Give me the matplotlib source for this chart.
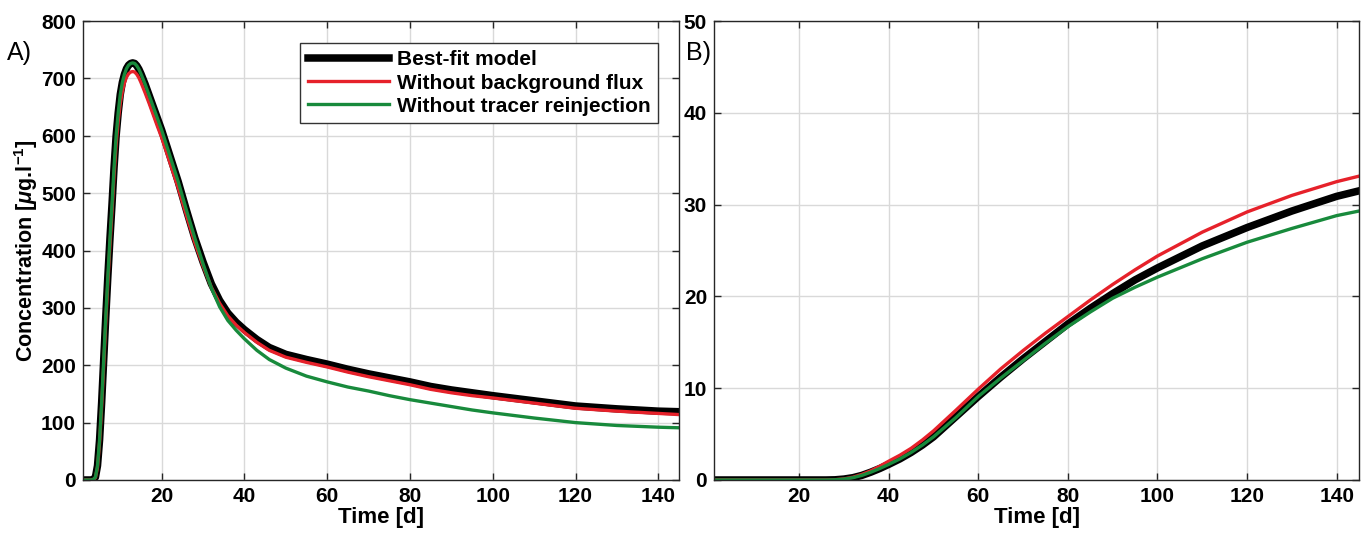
import matplotlib
matplotlib.use('Agg')
import matplotlib.pyplot as plt

plt.rcParams['font.family'] = ['Liberation Sans', 'DejaVu Sans']
plt.rcParams['font.weight'] = 'bold'
plt.rcParams['mathtext.fontset'] = 'custom'
plt.rcParams['mathtext.rm'] = 'Liberation Sans:bold'
plt.rcParams['mathtext.it'] = 'Liberation Sans:italic:bold'
plt.rcParams['mathtext.bf'] = 'Liberation Sans:bold'

# breakthrough curves, panel A (concentration in ug/l)
t_a = [1, 2, 3, 3.5, 4, 4.5, 5, 5.5, 6, 6.5, 7, 7.5, 8, 8.5, 9, 9.5, 10, 10.5, 11,
       11.5, 12, 12.5, 13, 13.5, 14, 14.5, 15, 16, 17, 18, 19, 20, 22, 24, 26, 28,
       30, 32, 34, 36, 38, 40, 43, 46, 50, 55, 60, 65, 70, 75, 80, 85, 90, 95, 100,
       110, 120, 130, 140, 145]
best_a = [0, 0, 0, 1, 5, 25, 70, 135, 210, 285, 355, 420, 480, 545, 600, 640, 672,
          693, 707, 717, 723, 726, 727, 726, 722, 716, 708, 690, 670, 650, 630, 610,
          565, 520, 470, 422, 380, 342, 313, 291, 275, 262, 245, 231, 219, 210, 202,
          193, 185, 178, 171, 163, 157, 152, 147, 138, 129, 124, 120, 119]
nobg_a = [0, 0, 0, 1, 4, 22, 65, 128, 200, 275, 344, 408, 468, 531, 585, 625, 656,
          677, 692, 702, 708, 711, 712, 711, 707, 701, 693, 675, 656, 636, 616, 597,
          553, 509, 461, 414, 373, 336, 308, 286, 270, 257, 240, 226, 214, 205, 197,
          188, 180, 173, 166, 158, 152, 147, 143, 134, 125, 120, 116, 114]
noreinj_a = [0, 0, 0, 1, 5, 25, 70, 135, 210, 285, 355, 420, 480, 545, 600, 640, 672,
             693, 707, 717, 723, 726, 727, 726, 722, 716, 708, 690, 670, 650, 630, 610,
             565, 520, 470, 422, 377, 335, 302, 278, 261, 246, 226, 210, 195, 181, 171,
             162, 155, 147, 140, 134, 128, 122, 117, 108, 100, 95, 92, 91]

# panel B
t_b = [1, 10, 20, 26, 28, 30, 32, 34, 36, 38, 40, 42.5, 45, 47.5, 50, 55, 60, 65, 70,
       75, 80, 85, 90, 95, 100, 110, 120, 130, 140, 145]
best_b = [0, 0, 0, 0, 0.02, 0.1, 0.25, 0.5, 0.85, 1.25, 1.7, 2.3, 3.0, 3.8, 4.7, 6.9,
          9.1, 11.2, 13.2, 15.1, 17.0, 18.7, 20.3, 21.8, 23.1, 25.5, 27.5, 29.3, 30.9,
          31.5]
nobg_b = [0, 0, 0, 0, 0.03, 0.12, 0.3, 0.6, 1.0, 1.5, 2.05, 2.7, 3.45, 4.35, 5.35, 7.6,
          9.9, 12.1, 14.1, 16.0, 17.8, 19.6, 21.3, 22.9, 24.4, 27.0, 29.2, 31.0, 32.5,
          33.1]
noreinj_b = [0, 0, 0, 0, 0.02, 0.1, 0.25, 0.5, 0.85, 1.25, 1.7, 2.3, 3.0, 3.8, 4.7, 6.8,
             9.1, 11.1, 13.0, 14.9, 16.7, 18.3, 19.8, 21.0, 22.1, 24.1, 25.9, 27.4, 28.8,
             29.3]

labels = ['Best-fit model', 'Without background flux', 'Without tracer reinjection']
red = '#e6212a'
green = '#188a3c'

fig = plt.figure(figsize=(13.7, 5.39), dpi=100)
ax1 = fig.add_axes([0.0606, 0.1095, 0.435, 0.8515])
ax2 = fig.add_axes([0.5212, 0.1095, 0.4708, 0.8515])


def style(ax, yticks):
    ax.set_xlim(1, 145)
    ax.set_xticks([20, 40, 60, 80, 100, 120, 140])
    ax.set_yticks(yticks)
    ax.set_ylim(yticks[0], yticks[-1])
    ax.grid(True, color='#d9d9d9', lw=1)
    ax.set_axisbelow(True)
    ax.tick_params(direction='in', length=5, width=1, top=True, right=True,
                   labelsize=15, color='#262626', pad=5)
    for s in ax.spines.values():
        s.set_color('#262626')
        s.set_linewidth(1.0)
    ax.set_xlabel('Time [d]', fontsize=16, fontweight='bold', labelpad=1)


ax1.plot(t_a, best_a, color='black', lw=5.4, label=labels[0], solid_joinstyle='round')
ax1.plot(t_a, nobg_a, color=red, lw=2.4, label=labels[1])
ax1.plot(t_a, noreinj_a, color=green, lw=2.4, label=labels[2])
style(ax1, list(range(0, 801, 100)))
ax1.set_ylabel(r'Concentration [$\mu$g.l$^{-1}$]', fontsize=15.5, fontweight='bold', labelpad=0.5)
leg = ax1.legend(loc='upper right', bbox_to_anchor=(0.965, 0.952), fontsize=15,
                 frameon=True, fancybox=False, handlelength=3.9, borderpad=0.35,
                 labelspacing=0.2, handletextpad=0.4, borderaxespad=0)
leg.get_frame().set_edgecolor('#333333')
leg.get_frame().set_linewidth(1.0)
leg.get_frame().set_alpha(1)

ax2.plot(t_b, best_b, color='black', lw=5.4, solid_joinstyle='round')
ax2.plot(t_b, nobg_b, color=red, lw=2.4)
ax2.plot(t_b, noreinj_b, color=green, lw=2.4)
style(ax2, list(range(0, 51, 10)))

fig.text(0.005, 0.902, 'A)', fontsize=18, fontweight='normal', va='center')
fig.text(0.501, 0.902, 'B)', fontsize=18, fontweight='normal', va='center')

fig.savefig('out.png', dpi=100)
